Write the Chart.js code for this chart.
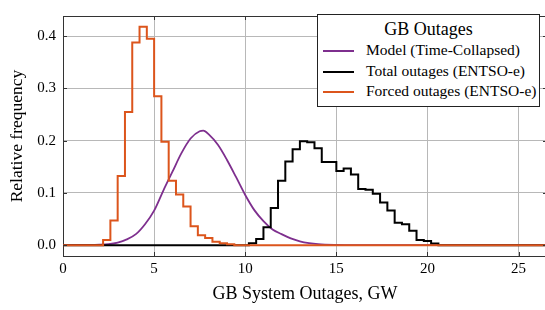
<!DOCTYPE html>
<html>
<head>
<meta charset="utf-8">
<script src="https://cdn.jsdelivr.net/npm/chart.js@4.4.1/dist/chart.umd.min.js"></script>
<style>
    html, body { margin: 0; padding: 0; background: #fff; overflow: hidden; }
    #wrap { position: relative; width: 548px; height: 310px; }
    #leyenda {
        position: absolute; left: 317px; top: 14px; width: 223px; height: 93px;
        box-sizing: border-box; border: 1px solid #222; background: #fff;
        font-family: "Liberation Serif", "Times New Roman", serif; color: #000;
    }
    #leyenda .titulo { text-align: center; font-size: 18px; line-height: 22px; margin-top: 3px; }
    #leyenda .item { position: relative; height: 20.5px; line-height: 20.5px; font-size: 15.5px; padding-left: 48px; white-space: nowrap; }
    #leyenda .item span.linea { position: absolute; left: 5px; top: 10px; width: 31px; height: 2px; }
</style>
</head>
<body>
<div id="wrap">
    <canvas id="grafico" width="548" height="310"></canvas>
    <div id="leyenda"></div>
</div>
<script>
// Modelo (curva continua)
const modelX = [0, 2.0, 2.5, 3.0, 3.5, 4.0, 4.5, 5.0, 5.5, 6.0, 6.5, 7.0, 7.5, 7.7, 8.0, 8.5, 9.0, 9.5, 10.0, 10.5, 11.0, 11.5, 12.0, 12.5, 13.0, 13.5, 14.0, 15.0, 16.0, 26.56];
const modelY = [0, 0.001, 0.002, 0.005, 0.011, 0.021, 0.040, 0.066, 0.104, 0.140, 0.176, 0.204, 0.218, 0.219, 0.212, 0.192, 0.163, 0.130, 0.096, 0.067, 0.046, 0.030, 0.021, 0.013, 0.0074, 0.004, 0.002, 0.0005, 0, 0];

// Histograma salidas totales (bordes izquierdos + borde final)
const totalEdges = [0, 10.2, 10.6, 11.0, 11.4, 11.8, 12.2, 12.6, 13.0, 13.4, 13.8, 14.2, 14.6, 15.0, 15.4, 15.8, 16.2, 16.6, 17.0, 17.4, 17.8, 18.2, 18.6, 19.0, 19.4, 19.8, 20.2, 20.6, 26.56];
const totalFreq = [0, 0.0037, 0.0117, 0.0344, 0.071, 0.1233, 0.160, 0.1834, 0.1987, 0.1969, 0.1852, 0.159, 0.159, 0.1417, 0.1467, 0.135, 0.1074, 0.1061, 0.0982, 0.0816, 0.0663, 0.0429, 0.0399, 0.0276, 0.0098, 0.008, 0.0031, 0, 0];

// Histograma salidas forzadas
const forcedEdges = [0, 2.2, 2.6, 3.0, 3.4, 3.8, 4.2, 4.6, 5.0, 5.4, 5.8, 6.2, 6.6, 7.0, 7.4, 7.8, 8.2, 8.6, 9.0, 9.4, 26.56];
const forcedFreq = [0, 0.0098, 0.047, 0.1325, 0.255, 0.388, 0.418, 0.395, 0.285, 0.198, 0.123, 0.097, 0.074, 0.036, 0.019, 0.0136, 0.0065, 0.0035, 0.0018, 0, 0];

const xTicks = [0, 5, 10, 15, 20, 25];
const yTicks = [0, 0.1, 0.2, 0.3, 0.4];

const etiquetas = ["Model (Time-Collapsed)", "Total outages (ENTSO-e)", "Forced outages (ENTSO-e)"];
const colores = ["#7E2F8E", "#000000", "#DC551C"];

const fuente = '"Liberation Serif", "Times New Roman", serif';
// cada valor se mantiene desde su borde izquierdo hasta el siguiente
const toPts = (xs, ys) => xs.map((x, i) => ({ x: x, y: i > 0 ? ys[i - 1] : ys[0] }));
const toCurve = (xs, ys) => xs.map((x, i) => ({ x: x, y: ys[i] }));

// ticks hacia adentro y marco superior/derecho
const marcoTicks = {
    id: 'marcoTicks',
    afterDraw(chart) {
        const { ctx, chartArea: a, scales } = chart;
        const len = 4;
        ctx.save();
        ctx.strokeStyle = '#333';
        ctx.lineWidth = 1;
        ctx.beginPath();
        ctx.moveTo(a.left, a.top + 0.5); ctx.lineTo(a.right, a.top + 0.5);
        ctx.moveTo(a.right - 0.5, a.top); ctx.lineTo(a.right - 0.5, a.bottom);
        xTicks.forEach(v => {
            const px = Math.round(scales.x.getPixelForValue(v)) + 0.5;
            ctx.moveTo(px, a.bottom); ctx.lineTo(px, a.bottom - len);
            ctx.moveTo(px, a.top); ctx.lineTo(px, a.top + len);
        });
        yTicks.forEach(v => {
            const py = Math.round(scales.y.getPixelForValue(v)) + 0.5;
            ctx.moveTo(a.left, py); ctx.lineTo(a.left + len, py);
            ctx.moveTo(a.right, py); ctx.lineTo(a.right - len, py);
        });
        ctx.stroke();
        ctx.restore();
    }
};

const ctx = document.getElementById("grafico").getContext('2d');
new Chart(ctx, {
    type: 'line',
    data: {
        datasets: [
            {
                label: etiquetas[0], data: toCurve(modelX, modelY), borderColor: colores[0],
                borderWidth: 1.8, pointRadius: 0, cubicInterpolationMode: 'monotone', order: 3
            },
            {
                label: etiquetas[1], data: toPts(totalEdges, totalFreq), borderColor: colores[1],
                borderWidth: 2, pointRadius: 0, stepped: 'after', borderJoinStyle: 'miter', order: 2
            },
            {
                label: etiquetas[2], data: toPts(forcedEdges, forcedFreq), borderColor: colores[2],
                borderWidth: 2, pointRadius: 0, stepped: 'after', borderJoinStyle: 'miter', order: 1
            }
        ]
    },
    options: {
        responsive: false,
        animation: false,
        layout: { padding: { top: 6, right: 1, left: 0, bottom: 0 } },
        plugins: { legend: { display: false }, tooltip: { enabled: false } },
        scales: {
            x: {
                type: 'linear', min: 0, max: 26.56,
                afterBuildTicks: s => { s.ticks = xTicks.map(v => ({ value: v })); },
                afterFit: s => { s.height = 54; },
                grid: { color: '#b8b8b8', drawTicks: false, lineWidth: 1 },
                border: { color: '#333', width: 1 },
                ticks: { color: '#000', font: { family: fuente, size: 15 }, padding: 4, maxRotation: 0 },
                title: { display: true, text: 'GB System Outages, GW', color: '#000', font: { family: fuente, size: 18 }, padding: { top: 0, bottom: 5 } }
            },
            y: {
                type: 'linear', min: -0.0208, max: 0.4385,
                afterBuildTicks: s => { s.ticks = yTicks.map(v => ({ value: v })); },
                afterFit: s => { s.width = 63; },
                grid: { color: '#b8b8b8', drawTicks: false, lineWidth: 1 },
                border: { color: '#333', width: 1 },
                ticks: { color: '#000', font: { family: fuente, size: 15 }, padding: 7, callback: v => v.toFixed(1) },
                title: { display: true, text: 'Relative frequency', color: '#000', font: { family: fuente, size: 17.5 }, padding: { top: 7, bottom: 0 } }
            }
        }
    },
    plugins: [marcoTicks]
});

// leyenda estilo matplotlib
let html = '<div class="titulo">GB Outages</div>';
etiquetas.forEach((t, i) => {
    html += `<div class="item"><span class="linea" style="background:${colores[i]}"></span>${t}</div>`;
});
document.getElementById("leyenda").innerHTML = html;
</script>
</body>
</html>
